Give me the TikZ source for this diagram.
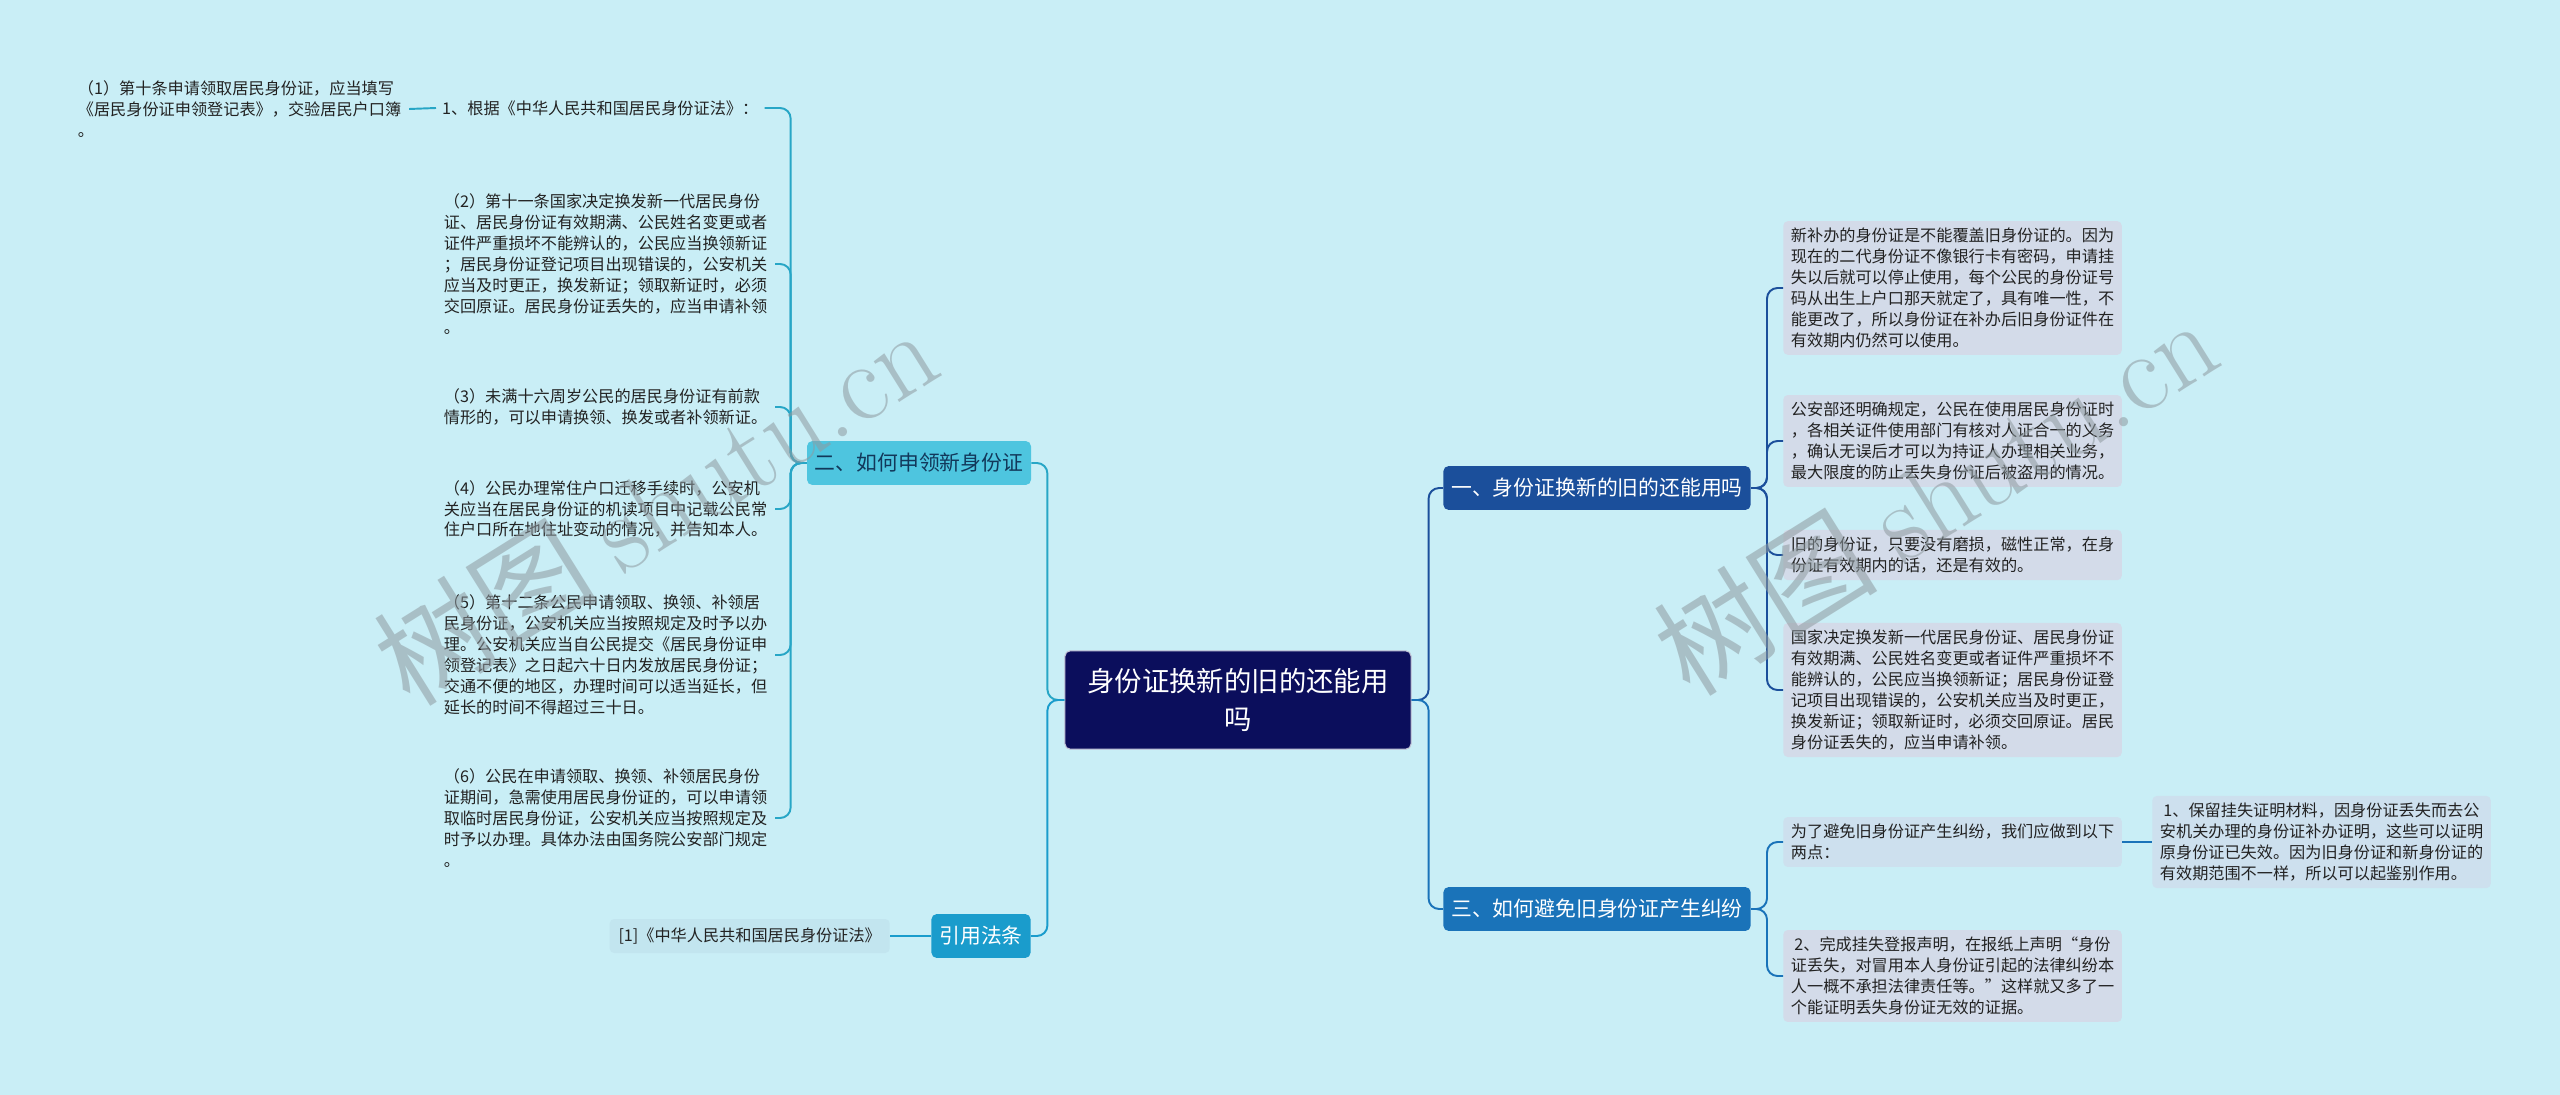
\documentclass[tikz,border=0pt]{standalone}
\usepackage{fontspec}
\newfontfamily\cjk{Noto Sans CJK SC}
\usepackage{tikz}
\usetikzlibrary{positioning}
\definecolor{PageBg}{HTML}{C9EEF6}
\definecolor{TextCol}{HTML}{222222}
\definecolor{CtrFill}{HTML}{0B0E5C}
\definecolor{B1Fill}{HTML}{1B4F9B}
\definecolor{B2Fill}{HTML}{4EC5DF}
\definecolor{B2Text}{HTML}{12385A}
\definecolor{B3Fill}{HTML}{1A73B9}
\definecolor{B4Fill}{HTML}{1A9CCC}
\definecolor{LinkTeal}{HTML}{27A6C6}
\definecolor{LeafFill}{HTML}{D3DBE9}
\definecolor{LeafBlue}{HTML}{CDE0EE}
\definecolor{LawFill}{HTML}{C2E5EF}
\definecolor{WmGray}{HTML}{8E9AA0}

\begin{document}
\begin{tikzpicture}[x=0.02cm, y=-0.02cm,
  every node/.style={font=\cjk\fontsize{9.2}{11.9}\selectfont, text=TextCol},
  leaf/.style={align=left, text width=184pt, inner xsep=4.3pt, inner ysep=4pt},
  leafbox/.style={leaf, fill=LeafFill, rounded corners=2.5pt},
  branch/.style={font=\cjk\fontsize{11.85}{14}\selectfont, text=white,
    rounded corners=3pt, inner xsep=4.5pt, minimum height=25pt},
  ctr/.style={font=\cjk\fontsize{15.6}{21.3}\selectfont, text=white, align=center,
    fill=CtrFill, draw=white!75!CtrFill, line width=0.6pt, rounded corners=3pt,
    minimum width=197pt, minimum height=56pt},
  link/.style={line width=1.1pt, rounded corners=6pt},
  wmark/.style={font=\cjk\fontsize{64}{64}\selectfont, text=WmGray, opacity=0.55}]
  \path[use as bounding box, fill=PageBg] (0,0) rectangle (2560,1095);

  % centre topic
  \node[ctr] (ctr) at (1238,700) {身份证换新的旧的还能用\\吗};

  % main branches
  \node[branch, fill=B2Fill, text=B2Text] (b2) at (919,463) {二、如何申领新身份证};
  \node[branch, fill=B4Fill] (b4) at (981,936) {引用法条};
  \node[branch, fill=B1Fill] (b1) at (1597,488) {一、身份证换新的旧的还能用吗};
  \node[branch, fill=B3Fill] (b3) at (1597,909) {三、如何避免旧身份证产生纠纷};

  % left leaves of branch two
  \node[anchor=west] (l1) at (436,108) {1、根据《中华人民共和国居民身份证法》：};
  \node[leaf, anchor=west] (l1a) at (70,109)
    {（1）第十条申请领取居民身份证，应当填写\\《居民身份证申领登记表》，交验居民户口簿\\。};
  \node[leaf, anchor=west] (l2) at (436,264)
    {（2）第十一条国家决定换发新一代居民身份\\证、居民身份证有效期满、公民姓名变更或者\\证件严重损坏不能辨认的，公民应当换领新证\\；居民身份证登记项目出现错误的，公安机关\\应当及时更正，换发新证；领取新证时，必须\\交回原证。居民身份证丢失的，应当申请补领\\。};
  \node[leaf, anchor=west] (l3) at (436,407)
    {（3）未满十六周岁公民的居民身份证有前款\\情形的，可以申请换领、换发或者补领新证。};
  \node[leaf, anchor=west] (l4) at (436,509)
    {（4）公民办理常住户口迁移手续时，公安机\\关应当在居民身份证的机读项目中记载公民常\\住户口所在地住址变动的情况，并告知本人。};
  \node[leaf, anchor=west] (l5) at (436,655)
    {（5）第十二条公民申请领取、换领、补领居\\民身份证，公安机关应当按照规定及时予以办\\理。公安机关应当自公民提交《居民身份证申\\领登记表》之日起六十日内发放居民身份证；\\交通不便的地区，办理时间可以适当延长，但\\延长的时间不得超过三十日。};
  \node[leaf, anchor=west] (l6) at (436,818)
    {（6）公民在申请领取、换领、补领居民身份\\证期间，急需使用居民身份证的，可以申请领\\取临时居民身份证，公安机关应当按照规定及\\时予以办理。具体办法由国务院公安部门规定\\。};

  % law reference
  \node[anchor=east, fill=LawFill, rounded corners=2.5pt, inner xsep=5pt, inner ysep=5pt]
    (lr) at (890,936) {[1]《中华人民共和国居民身份证法》};

  % right leaves of branch one
  \node[leafbox, anchor=west] (ra) at (1783,288)
    {新补办的身份证是不能覆盖旧身份证的。因为\\现在的二代身份证不像银行卡有密码，申请挂\\失以后就可以停止使用，每个公民的身份证号\\码从出生上户口那天就定了，具有唯一性，不\\能更改了，所以身份证在补办后旧身份证件在\\有效期内仍然可以使用。};
  \node[leafbox, anchor=west] (rb) at (1783,441)
    {公安部还明确规定，公民在使用居民身份证时\\，各相关证件使用部门有核对人证合一的义务\\，确认无误后才可以为持证人办理相关业务，\\最大限度的防止丢失身份证后被盗用的情况。};
  \node[leafbox, anchor=west] (rc) at (1783,555)
    {旧的身份证，只要没有磨损，磁性正常，在身\\份证有效期内的话，还是有效的。};
  \node[leafbox, anchor=west] (rd) at (1783,690)
    {国家决定换发新一代居民身份证、居民身份证\\有效期满、公民姓名变更或者证件严重损坏不\\能辨认的，公民应当换领新证；居民身份证登\\记项目出现错误的，公安机关应当及时更正，\\换发新证；领取新证时，必须交回原证。居民\\身份证丢失的，应当申请补领。};

  % right leaves of branch three
  \node[leafbox, fill=LeafBlue, anchor=west] (re) at (1783,842)
    {为了避免旧身份证产生纠纷，我们应做到以下\\两点：};
  \node[leafbox, anchor=west] (rf) at (1783,976)
    {\hspace{2pt}2、完成挂失登报声明，在报纸上声明“身份\\证丢失，对冒用本人身份证引起的法律纠纷本\\人一概不承担法律责任等。”这样就又多了一\\个能证明丢失身份证无效的证据。};
  \node[leafbox, fill=LeafBlue, anchor=west] (rg) at (2152,842)
    {\hspace{2pt}1、保留挂失证明材料，因身份证丢失而去公\\安机关办理的身份证补办证明，这些可以证明\\原身份证已失效。因为旧身份证和新身份证的\\有效期范围不一样，所以可以起鉴别作用。};

  % connectors
  \foreach \b/\c in {b2/LinkTeal, b4/B4Fill}
    \draw[link, draw=\c] (ctr.west) -- ++(-17,0) |- (\b.east);
  \foreach \b/\c in {b1/B1Fill, b3/B3Fill}
    \draw[link, draw=\c] (ctr.east) -- ++(17,0) |- (\b.west);
  \foreach \n in {l1,l2,l3,l4,l5,l6}
    \draw[link, draw=LinkTeal] (b2.west) -- ++(-16,0) |- (\n.east);
  \draw[link, draw=LinkTeal] (l1.west) -- (l1a.east);
  \draw[link, draw=B4Fill] (b4.west) -- (lr.east);
  \foreach \n in {ra,rb,rc,rd}
    \draw[link, draw=B1Fill] (b1.east) -- ++(16,0) |- (\n.west);
  \foreach \n in {re,rf}
    \draw[link, draw=B3Fill] (b3.east) -- ++(16,0) |- (\n.west);
  \draw[link, draw=B3Fill] (re.east) -- (rg.west);

  % watermarks
  \node[wmark, rotate=32] (wm1) at (655,505) {树图 {\rmfamily shutu.cn}};
  \node[wmark, rotate=32] (wm2) at (1935,495) {树图 {\rmfamily shutu.cn}};
\end{tikzpicture}
\end{document}
